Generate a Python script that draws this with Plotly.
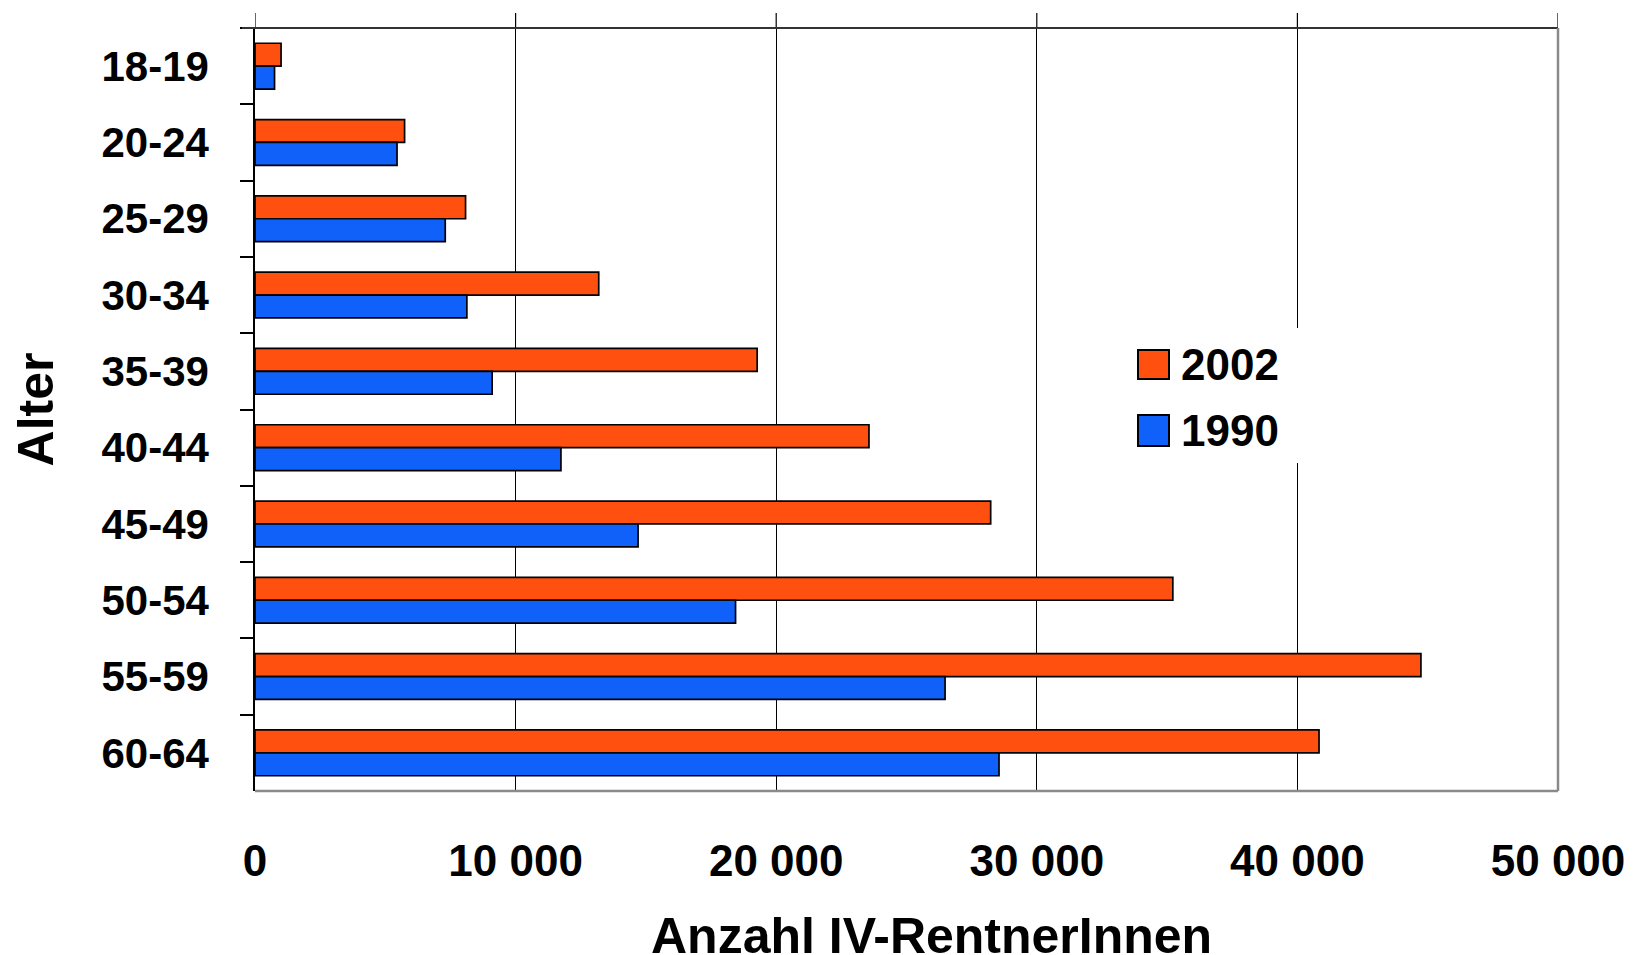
import plotly.graph_objects as go

categories = ["18-19", "20-24", "25-29", "30-34", "35-39", "40-44", "45-49", "50-54", "55-59", "60-64"]
values_2002 = [1000, 5740, 8080, 13190, 19270, 23560, 28230, 35220, 44740, 40830]
values_1990 = [750, 5450, 7300, 8130, 9100, 11740, 14700, 18440, 26480, 28550]
series_names = ["2002", "1990"]
series_colors = ["#FF5010", "#1060FA"]
x_tickvals = [0, 10000, 20000, 30000, 40000, 50000]
x_ticktext = ["0", "10 000", "20 000", "30 000", "40 000", "50 000"]
x_title = "Anzahl IV-RentnerInnen"
y_title = "Alter"

FONT = "Liberation Sans, Arial, sans-serif"

OFF = 8  # default page body margin
W, H = 1638 - OFF, 955 - OFF
L, R, T, B = 255 - OFF, 1558 - OFF, 28 - OFF, 791 - OFF  # plot area pixel bounds in figure
PW, PH = R - L, B - T

def px_x(p):
    # p: pixel x in the page screenshot
    return (p - OFF - L) / PW

def px_y(p):
    return (B - (p - OFF)) / PH

fig = go.Figure()
for name, vals, col in zip(series_names, [values_2002, values_1990], series_colors):
    fig.add_trace(go.Bar(
        y=categories, x=vals, name=name, orientation="h",
        marker=dict(color=col, line=dict(color="black", width=1.7)),
        showlegend=False,
    ))

shapes = []
# gridline extensions above the frame
for v in x_tickvals:
    shapes.append(dict(type="line", xref="x", yref="paper", x0=v, x1=v,
                       y0=1, y1=px_y(13), line=dict(color="black", width=1.2)))
# top border
shapes.append(dict(type="line", xref="paper", yref="paper", x0=px_x(242), x1=1,
                   y0=1, y1=1, line=dict(color="#333333", width=2)))
# right border
shapes.append(dict(type="line", xref="paper", yref="paper", x0=1, x1=1,
                   y0=0, y1=1, line=dict(color="#8a8a8a", width=2.5)))
# bottom border
shapes.append(dict(type="line", xref="paper", yref="paper", x0=0, x1=1,
                   y0=0, y1=0, line=dict(color="#8a8a8a", width=2.5)))
# legend background
shapes.append(dict(type="rect", xref="paper", yref="paper",
                   x0=px_x(1125), x1=px_x(1300), y0=px_y(463), y1=px_y(328),
                   fillcolor="white", line=dict(width=0), layer="above"))
annotations = []
legend_rows = [(350, 379), (415, 446)]
for (y0, y1), name, col in zip(legend_rows, series_names, series_colors):
    shapes.append(dict(type="rect", xref="paper", yref="paper",
                       x0=px_x(1138), x1=px_x(1169), y0=px_y(y1), y1=px_y(y0),
                       fillcolor=col, line=dict(color="black", width=2), layer="above"))
    annotations.append(dict(xref="paper", yref="paper", x=px_x(1179), y=px_y((y0 + y1) / 2),
                            text=name, showarrow=False, xanchor="left", yanchor="middle",
                            font=dict(family=FONT, size=44, color="black", weight="bold")))
# x axis title (offset to the right of the plot centre, as in the original)
annotations.append(dict(xref="paper", yref="paper", x=px_x(931), y=px_y(936),
                        text=x_title, showarrow=False, xanchor="center", yanchor="middle",
                        font=dict(family=FONT, size=50, color="black", weight="bold")))

fig.update_layout(
    width=W, height=H,
    margin=dict(l=L, r=W - R, t=T, b=H - B, autoexpand=False),
    paper_bgcolor="white", plot_bgcolor="white",
    barmode="group", bargap=0.4, bargroupgap=0,
    shapes=shapes, annotations=annotations,
    font=dict(family=FONT, color="black"),
    xaxis=dict(
        range=[0, 50000], tickvals=x_tickvals, ticktext=x_ticktext,
        showgrid=True, gridcolor="black", gridwidth=1.2, zeroline=False,
        showline=False, ticks="", ticklabelstandoff=40,
        tickfont=dict(family=FONT, size=44, color="black", weight="bold"),
        fixedrange=True,
    ),
    yaxis=dict(
        autorange="reversed", tickson="boundaries", ticks="outside", ticklen=13,
        tickcolor="black", tickwidth=1.5, showline=True, linecolor="black", linewidth=1.5,
        showgrid=False, ticklabelstandoff=36,
        tickfont=dict(family=FONT, size=42, color="black", weight="bold"),
        title=dict(text=y_title, standoff=36,
                   font=dict(family=FONT, size=50, color="black", weight="bold")),
        fixedrange=True,
    ),
)

fig.write_html("out.html")
